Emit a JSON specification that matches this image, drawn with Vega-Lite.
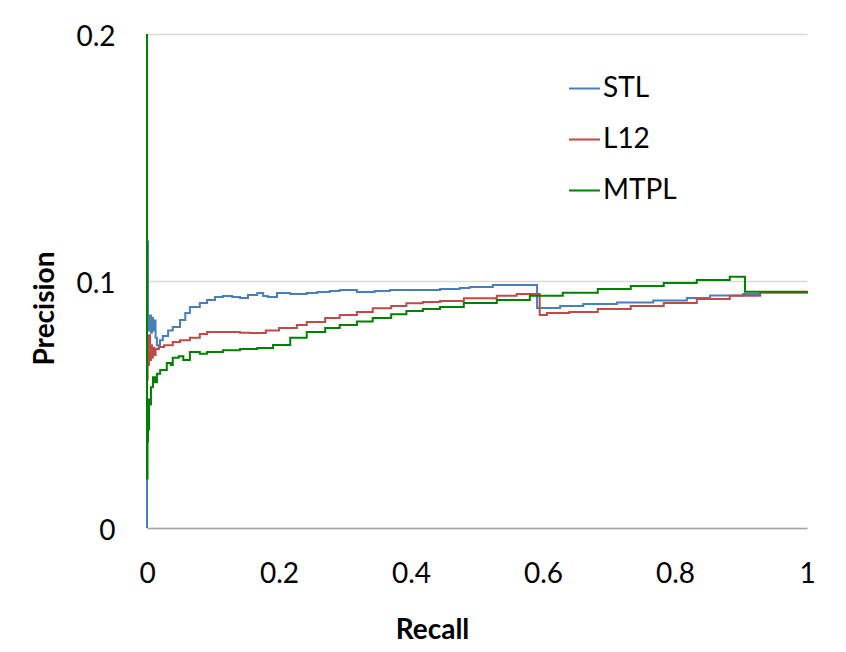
{
  "$schema": "https://vega.github.io/schema/vega-lite/v6.json",
  "autosize": {"type": "none"},
  "width": 660,
  "height": 494,
  "padding": {"left": 147, "top": 34, "right": 39, "bottom": 124},
  "background": "white",
  "config": {
    "font": "Lato",
    "view": {"stroke": null},
    "axis": {"labelColor": "#000000", "titleColor": "#000000", "labelFont": "Lato", "titleFont": "Lato"}
  },
  "datasets": {
    "pr": [
      {"model": "STL", "recall": 0, "precision": 0},
      {"model": "STL", "recall": 0, "precision": 0.116},
      {"model": "STL", "recall": 0.0015, "precision": 0.086},
      {"model": "STL", "recall": 0.003, "precision": 0.080},
      {"model": "STL", "recall": 0.0045, "precision": 0.086},
      {"model": "STL", "recall": 0.006, "precision": 0.079},
      {"model": "STL", "recall": 0.0075, "precision": 0.085},
      {"model": "STL", "recall": 0.009, "precision": 0.080},
      {"model": "STL", "recall": 0.011, "precision": 0.084},
      {"model": "STL", "recall": 0.013, "precision": 0.077},
      {"model": "STL", "recall": 0.015, "precision": 0.074},
      {"model": "STL", "recall": 0.0197, "precision": 0.076},
      {"model": "STL", "recall": 0.024, "precision": 0.0777},
      {"model": "STL", "recall": 0.032, "precision": 0.080},
      {"model": "STL", "recall": 0.039, "precision": 0.0814},
      {"model": "STL", "recall": 0.05, "precision": 0.0842},
      {"model": "STL", "recall": 0.058, "precision": 0.087},
      {"model": "STL", "recall": 0.065, "precision": 0.0895},
      {"model": "STL", "recall": 0.08, "precision": 0.0911},
      {"model": "STL", "recall": 0.091, "precision": 0.0923},
      {"model": "STL", "recall": 0.103, "precision": 0.0935},
      {"model": "STL", "recall": 0.115, "precision": 0.0939},
      {"model": "STL", "recall": 0.129, "precision": 0.0935},
      {"model": "STL", "recall": 0.141, "precision": 0.0931},
      {"model": "STL", "recall": 0.153, "precision": 0.0943},
      {"model": "STL", "recall": 0.167, "precision": 0.0951},
      {"model": "STL", "recall": 0.176, "precision": 0.0939},
      {"model": "STL", "recall": 0.183, "precision": 0.0935},
      {"model": "STL", "recall": 0.197, "precision": 0.0951},
      {"model": "STL", "recall": 0.217, "precision": 0.0947},
      {"model": "STL", "recall": 0.242, "precision": 0.0951},
      {"model": "STL", "recall": 0.258, "precision": 0.0955},
      {"model": "STL", "recall": 0.277, "precision": 0.096},
      {"model": "STL", "recall": 0.292, "precision": 0.0964},
      {"model": "STL", "recall": 0.318, "precision": 0.0955},
      {"model": "STL", "recall": 0.345, "precision": 0.096},
      {"model": "STL", "recall": 0.368, "precision": 0.0964},
      {"model": "STL", "recall": 0.406, "precision": 0.0964},
      {"model": "STL", "recall": 0.444, "precision": 0.0968},
      {"model": "STL", "recall": 0.474, "precision": 0.0972},
      {"model": "STL", "recall": 0.489, "precision": 0.0976},
      {"model": "STL", "recall": 0.524, "precision": 0.0984},
      {"model": "STL", "recall": 0.591, "precision": 0.0891},
      {"model": "STL", "recall": 0.626, "precision": 0.0899},
      {"model": "STL", "recall": 0.661, "precision": 0.0907},
      {"model": "STL", "recall": 0.712, "precision": 0.0913},
      {"model": "STL", "recall": 0.767, "precision": 0.0921},
      {"model": "STL", "recall": 0.818, "precision": 0.0931},
      {"model": "STL", "recall": 0.853, "precision": 0.0941},
      {"model": "STL", "recall": 0.903, "precision": 0.0947},
      {"model": "STL", "recall": 0.929, "precision": 0.0955},
      {"model": "STL", "recall": 1.0, "precision": 0.096},

      {"model": "L12", "recall": 0, "precision": 0.06},
      {"model": "L12", "recall": 0.001, "precision": 0.075},
      {"model": "L12", "recall": 0.002, "precision": 0.066},
      {"model": "L12", "recall": 0.003, "precision": 0.078},
      {"model": "L12", "recall": 0.0045, "precision": 0.068},
      {"model": "L12", "recall": 0.006, "precision": 0.074},
      {"model": "L12", "recall": 0.0075, "precision": 0.069},
      {"model": "L12", "recall": 0.009, "precision": 0.073},
      {"model": "L12", "recall": 0.011, "precision": 0.070},
      {"model": "L12", "recall": 0.013, "precision": 0.0725},
      {"model": "L12", "recall": 0.018, "precision": 0.0733},
      {"model": "L12", "recall": 0.026, "precision": 0.074},
      {"model": "L12", "recall": 0.039, "precision": 0.0753},
      {"model": "L12", "recall": 0.05, "precision": 0.076},
      {"model": "L12", "recall": 0.065, "precision": 0.077},
      {"model": "L12", "recall": 0.08, "precision": 0.0785},
      {"model": "L12", "recall": 0.091, "precision": 0.0794},
      {"model": "L12", "recall": 0.115, "precision": 0.0794},
      {"model": "L12", "recall": 0.141, "precision": 0.079},
      {"model": "L12", "recall": 0.156, "precision": 0.0789},
      {"model": "L12", "recall": 0.18, "precision": 0.080},
      {"model": "L12", "recall": 0.2, "precision": 0.081},
      {"model": "L12", "recall": 0.227, "precision": 0.0822},
      {"model": "L12", "recall": 0.242, "precision": 0.0834},
      {"model": "L12", "recall": 0.27, "precision": 0.085},
      {"model": "L12", "recall": 0.292, "precision": 0.0862},
      {"model": "L12", "recall": 0.318, "precision": 0.0874},
      {"model": "L12", "recall": 0.342, "precision": 0.089},
      {"model": "L12", "recall": 0.37, "precision": 0.0899},
      {"model": "L12", "recall": 0.393, "precision": 0.091},
      {"model": "L12", "recall": 0.418, "precision": 0.0915},
      {"model": "L12", "recall": 0.444, "precision": 0.0919},
      {"model": "L12", "recall": 0.48, "precision": 0.093},
      {"model": "L12", "recall": 0.53, "precision": 0.094},
      {"model": "L12", "recall": 0.56, "precision": 0.0947},
      {"model": "L12", "recall": 0.595, "precision": 0.0862},
      {"model": "L12", "recall": 0.606, "precision": 0.087},
      {"model": "L12", "recall": 0.64, "precision": 0.0874},
      {"model": "L12", "recall": 0.683, "precision": 0.0887},
      {"model": "L12", "recall": 0.733, "precision": 0.0899},
      {"model": "L12", "recall": 0.783, "precision": 0.0911},
      {"model": "L12", "recall": 0.833, "precision": 0.0927},
      {"model": "L12", "recall": 0.883, "precision": 0.094},
      {"model": "L12", "recall": 0.929, "precision": 0.0952},
      {"model": "L12", "recall": 1.0, "precision": 0.096},

      {"model": "MTPL", "recall": 0, "precision": 0.2},
      {"model": "MTPL", "recall": 0, "precision": 0.02},
      {"model": "MTPL", "recall": 0.0008, "precision": 0.035},
      {"model": "MTPL", "recall": 0.0015, "precision": 0.045},
      {"model": "MTPL", "recall": 0.002, "precision": 0.040},
      {"model": "MTPL", "recall": 0.003, "precision": 0.052},
      {"model": "MTPL", "recall": 0.0045, "precision": 0.050},
      {"model": "MTPL", "recall": 0.006, "precision": 0.057},
      {"model": "MTPL", "recall": 0.009, "precision": 0.061},
      {"model": "MTPL", "recall": 0.012, "precision": 0.059},
      {"model": "MTPL", "recall": 0.015, "precision": 0.0625},
      {"model": "MTPL", "recall": 0.02, "precision": 0.064},
      {"model": "MTPL", "recall": 0.03, "precision": 0.0668},
      {"model": "MTPL", "recall": 0.036, "precision": 0.066},
      {"model": "MTPL", "recall": 0.039, "precision": 0.0689},
      {"model": "MTPL", "recall": 0.048, "precision": 0.0695},
      {"model": "MTPL", "recall": 0.055, "precision": 0.068},
      {"model": "MTPL", "recall": 0.065, "precision": 0.0713},
      {"model": "MTPL", "recall": 0.08, "precision": 0.0705},
      {"model": "MTPL", "recall": 0.091, "precision": 0.0713},
      {"model": "MTPL", "recall": 0.115, "precision": 0.072},
      {"model": "MTPL", "recall": 0.141, "precision": 0.0725},
      {"model": "MTPL", "recall": 0.167, "precision": 0.0729},
      {"model": "MTPL", "recall": 0.191, "precision": 0.0741},
      {"model": "MTPL", "recall": 0.217, "precision": 0.077},
      {"model": "MTPL", "recall": 0.242, "precision": 0.0794},
      {"model": "MTPL", "recall": 0.27, "precision": 0.081},
      {"model": "MTPL", "recall": 0.292, "precision": 0.0822},
      {"model": "MTPL", "recall": 0.318, "precision": 0.0836},
      {"model": "MTPL", "recall": 0.342, "precision": 0.085},
      {"model": "MTPL", "recall": 0.37, "precision": 0.0865},
      {"model": "MTPL", "recall": 0.393, "precision": 0.0879},
      {"model": "MTPL", "recall": 0.418, "precision": 0.0887},
      {"model": "MTPL", "recall": 0.444, "precision": 0.0895},
      {"model": "MTPL", "recall": 0.48, "precision": 0.0911},
      {"model": "MTPL", "recall": 0.53, "precision": 0.0923},
      {"model": "MTPL", "recall": 0.58, "precision": 0.094},
      {"model": "MTPL", "recall": 0.63, "precision": 0.0952},
      {"model": "MTPL", "recall": 0.683, "precision": 0.0968},
      {"model": "MTPL", "recall": 0.733, "precision": 0.098},
      {"model": "MTPL", "recall": 0.783, "precision": 0.0992},
      {"model": "MTPL", "recall": 0.833, "precision": 0.1004},
      {"model": "MTPL", "recall": 0.883, "precision": 0.1017},
      {"model": "MTPL", "recall": 0.906, "precision": 0.0956},
      {"model": "MTPL", "recall": 1.0, "precision": 0.096}
    ]
  },
  "data": {"name": "pr"},
  "mark": {"type": "line", "interpolate": "step-after", "strokeWidth": 2, "clip": false},
  "encoding": {
    "x": {
      "field": "recall", "type": "quantitative",
      "scale": {"domain": [0, 1], "nice": false, "zero": false},
      "axis": {
        "values": [0, 0.2, 0.4, 0.6, 0.8, 1],
        "format": "~g",
        "grid": false,
        "ticks": false,
        "domainColor": "#a6a6a6",
        "domainWidth": 1.5,
        "labelFontSize": 28,
        "labelPadding": 32,
        "labelFlush": false,
        "labelOverlap": false,
        "title": "Recall",
        "titleFontSize": 28,
        "titleFontWeight": "bold",
        "titleX": 285,
        "titleY": 110,
        "titleAlign": "center",
        "titleBaseline": "alphabetic"
      }
    },
    "y": {
      "field": "precision", "type": "quantitative",
      "scale": {"domain": [0, 0.2], "nice": false},
      "axis": {
        "values": [0, 0.1, 0.2],
        "format": "~g",
        "grid": true,
        "gridColor": "#d9d9d9",
        "gridWidth": 1.5,
        "domain": false,
        "ticks": false,
        "labelFontSize": 28,
        "labelPadding": 32,
        "labelOffset": 3,
        "title": "Precision",
        "titleFontSize": 28,
        "titleFontWeight": "bold",
        "titleAngle": -90,
        "titleX": -94,
        "titleY": 274,
        "titleAlign": "center",
        "titleBaseline": "alphabetic"
      }
    },
    "color": {
      "field": "model", "type": "nominal",
      "scale": {"domain": ["STL", "L12", "MTPL"], "range": ["#4A7EBB", "#BE4B48", "#008000"]},
      "legend": {
        "title": null,
        "orient": "none",
        "legendX": 421,
        "legendY": 38,
        "padding": 0,
        "symbolType": "stroke",
        "symbolSize": 961,
        "symbolStrokeWidth": 2,
        "labelFontSize": 28,
        "labelColor": "#000000",
        "labelOffset": 2,
        "rowPadding": 20
      }
    },
    "order": {"field": "recall", "type": "quantitative"}
  }
}
